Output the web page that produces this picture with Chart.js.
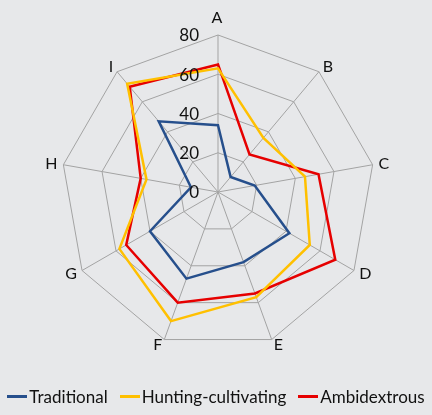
<!DOCTYPE html>
<html>
<head>
<meta charset="utf-8">
<script src="https://cdn.jsdelivr.net/npm/chart.js@4"></script>
<style>
  html, body { margin: 0; padding: 0; background: #e7e8ea; }
  #wrap { width: 432px; height: 415px; position: relative; }
  #legend {
    position: absolute; left: 0; right: 0; top: 386px;
    display: flex; justify-content: center; gap: 12px;
    font: 17px Lato, "Open Sans", sans-serif; color: #111;
    white-space: nowrap;
  }
  #legend span.item { display: inline-flex; align-items: center; }
  #legend span.mark { display: inline-block; width: 20px; height: 2.5px; margin-right: 2px; }
</style>
</head>
<body>
<div id="wrap"><canvas id="radar"></canvas><div id="legend"></div></div>
<script>
const categories = ["A", "B", "C", "D", "E", "F", "G", "H", "I"];
const traditional = [34, 10, 19, 42, 38, 47, 40, 14, 47];
const huntingCultivating = [63, 36, 45, 54, 57, 70, 58, 37, 72];
const ambidextrous = [65, 25, 52, 69, 55, 60, 54, 40, 70];
const tickValues = [0, 20, 40, 60, 80];

const FONT = "Lato, 'Open Sans', sans-serif";

// tick numbers left of the vertical axis, category names just outside each spoke
const radarText = {
    id: "radarText",
    afterDraw(chart) {
        const s = chart.scales.r;
        const ctx = chart.ctx;
        ctx.save();
        ctx.fillStyle = "#111";
        ctx.textBaseline = "middle";

        ctx.font = "17px " + FONT;
        ctx.textAlign = "right";
        tickValues.forEach(v => {
            const d = s.getDistanceFromCenterForValue(v);
            ctx.fillText(String(v), s.xCenter - 19, s.yCenter - d + 1);
        });

        ctx.font = "16px " + FONT;
        const outer = s.getDistanceFromCenterForValue(s.max);
        categories.forEach((name, i) => {
            const p = s.getPointPosition(i, outer + 6);
            const dx = p.x - s.xCenter;
            if (Math.abs(dx) < 1) {
                ctx.textAlign = "center";
                const top = s.getPointPosition(i, outer + 17);
                ctx.fillText(name, top.x - 1, top.y);
            } else {
                ctx.textAlign = dx > 0 ? "left" : "right";
                ctx.fillText(name, p.x, p.y);
            }
        });
        ctx.restore();
    }
};

const chart = new Chart(document.getElementById("radar"), {
    type: "radar",
    data: {
        labels: categories,
        datasets: [
            { label: "Traditional", data: traditional, borderColor: "#264f8c" },
            { label: "Hunting-cultivating", data: huntingCultivating, borderColor: "#ffc000" },
            { label: "Ambidextrous", data: ambidextrous, borderColor: "#e60000" }
        ].map(d => Object.assign(d, {
            fill: false,
            borderWidth: 2.5,
            pointRadius: 0,
            pointHoverRadius: 0,
            tension: 0
        }))
    },
    options: {
        responsive: true,
        maintainAspectRatio: false,
        animation: false,
        layout: { padding: { top: 35, bottom: 66, left: 4, right: 0 } },
        scales: {
            r: {
                min: 0,
                max: 80,
                ticks: { stepSize: 20, display: false },
                grid: { color: "#a3a3a3", lineWidth: 1 },
                angleLines: { color: "#a3a3a3", lineWidth: 1 },
                pointLabels: { display: false }
            }
        },
        plugins: {
            legend: { display: false },
            tooltip: { enabled: false }
        }
    },
    plugins: [radarText]
});

// legend built from the dataset labels and colours
document.getElementById("legend").innerHTML = chart.data.datasets.map(d =>
    '<span class="item"><span class="mark" style="background:' + d.borderColor +
    '"></span>' + d.label + '</span>').join("");
</script>
</body>
</html>
